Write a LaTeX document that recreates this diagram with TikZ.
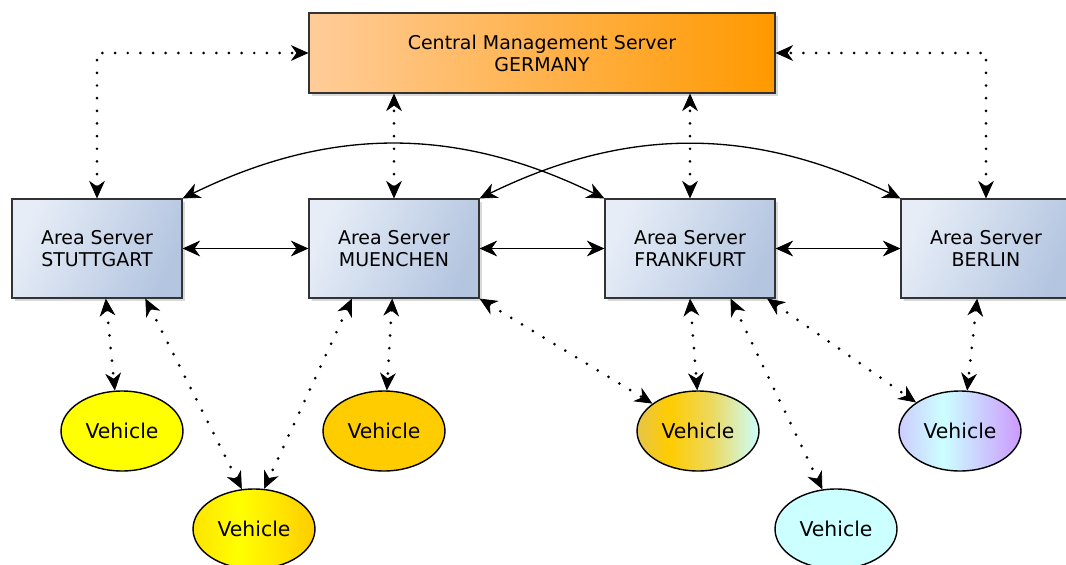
\documentclass[tikz,border=0pt]{standalone}
\usepackage{fontspec}
\setmainfont{DejaVu Sans}
\usetikzlibrary{arrows.meta,shapes.geometric,shadows}

\definecolor{cmsleft}{HTML}{FFCC99}
\definecolor{cmsright}{HTML}{FF9900}
\definecolor{arealight}{HTML}{E6EDF7}
\definecolor{areadark}{HTML}{B4C5E0}
\definecolor{vyellow}{HTML}{FFFF00}
\definecolor{vgold}{HTML}{FFCC00}
\definecolor{vcyan}{HTML}{CCFFFF}
\definecolor{vbA}{HTML}{FFE400}
\definecolor{vdA}{HTML}{E6C44A}
\definecolor{vdC}{HTML}{EDD85C}
\definecolor{vfA}{HTML}{CCCCFF}
\definecolor{vfC}{HTML}{CC99FF}

\pgfdeclarehorizontalshading{areashade}{100bp}{color(0bp)=(arealight); color(25bp)=(arealight); color(75bp)=(areadark); color(100bp)=(areadark)}
\pgfdeclarehorizontalshading{vehicleb}{100bp}{color(0bp)=(vbA); color(25bp)=(vbA); color(44bp)=(vyellow); color(75bp)=(vgold); color(100bp)=(vgold)}
\pgfdeclarehorizontalshading{vehicled}{100bp}{color(0bp)=(vdA); color(25bp)=(vdA); color(38bp)=(vgold); color(55bp)=(vdC); color(75bp)=(vcyan); color(100bp)=(vcyan)}
\pgfdeclarehorizontalshading{vehiclef}{100bp}{color(0bp)=(vfA); color(25bp)=(vfA); color(43bp)=(vcyan); color(75bp)=(vfC); color(100bp)=(vfC)}

\begin{document}
\begin{tikzpicture}[x=0.02cm,y=-0.02cm,
    font=\fontsize{10.8pt}{12.6pt}\selectfont,
    tip/.tip={Stealth[length=10pt,width=9pt,inset=3.2pt,line width=0.4pt]},
    server/.style={rectangle,draw=black!80,line width=0.7pt,align=center,inner sep=0pt,
        drop shadow={shadow xshift=1.6pt,shadow yshift=-1.6pt,opacity=0.3}},
    central/.style={server,minimum width=9.32cm,minimum height=1.6cm,left color=cmsleft,right color=cmsright},
    area/.style={server,minimum width=3.4cm,minimum height=1.98cm,shading=areashade,shading angle=-25},
    vehicle/.style={ellipse,draw=black,line width=0.8pt,minimum width=2.44cm,minimum height=1.6cm,inner sep=0pt,
        font=\fontsize{11.6pt}{13pt}\selectfont},
    dotlink/.style={line width=1.7pt,dash pattern=on 0pt off 7.2pt,line cap=round,{tip}-{tip}},
    solidlink/.style={line width=0.75pt,{tip}-{tip}}]
\useasboundingbox (0,0) rectangle (1066,565);

\node[central] (central) at (542,53) {Central Management Server\\GERMANY};

\node[area] (stuttgart) at (97,248.5) {Area Server\\STUTTGART};
\node[area] (muenchen) at (394,248.5) {Area Server\\MUENCHEN};
\node[area] (frankfurt) at (690,248.5) {Area Server\\FRANKFURT};
\node[area] (berlin) at (986,248.5) {Area Server\\BERLIN};

\node[vehicle,fill=vyellow] (v1) at (122,431) {Vehicle};
\node[vehicle,shading=vehicleb] (v2) at (254,529) {Vehicle};
\node[vehicle,fill=vgold] (v3) at (384,431) {Vehicle};
\node[vehicle,shading=vehicled] (v4) at (698,431) {Vehicle};
\node[vehicle,fill=vcyan] (v5) at (836,529) {Vehicle};
\node[vehicle,shading=vehiclef] (v6) at (960,431) {Vehicle};

\draw[dotlink] (stuttgart.north) |- (central.west);
\draw[dotlink] (berlin.north) |- (central.east);
\draw[dotlink] (muenchen.north) -- (muenchen.north |- central.south);
\draw[dotlink] (frankfurt.north) -- (frankfurt.north |- central.south);

\draw[solidlink] (stuttgart.east) -- (muenchen.west);
\draw[solidlink] (muenchen.east) -- (frankfurt.west);
\draw[solidlink] (frankfurt.east) -- (berlin.west);
\draw[solidlink] (stuttgart.north east) to[bend left=26] (frankfurt.north west);
\draw[solidlink] (muenchen.north east) to[bend left=26] (berlin.north west);

\draw[dotlink] (stuttgart.-80) -- (v1.100);
\draw[dotlink] (stuttgart.-46) -- (v2.107);
\draw[dotlink] (muenchen.-130) -- (v2.76);
\draw[dotlink] (muenchen.-92) -- (v3.86);
\draw[dotlink] (muenchen.south east) -- (v4.149);
\draw[dotlink] (frankfurt.south) -- (v4.91);
\draw[dotlink] (frankfurt.-51) -- (v5.109);
\draw[dotlink] (frankfurt.-33) -- (v6.147);
\draw[dotlink] (berlin.-100) -- (v6.80);
\end{tikzpicture}
\end{document}
